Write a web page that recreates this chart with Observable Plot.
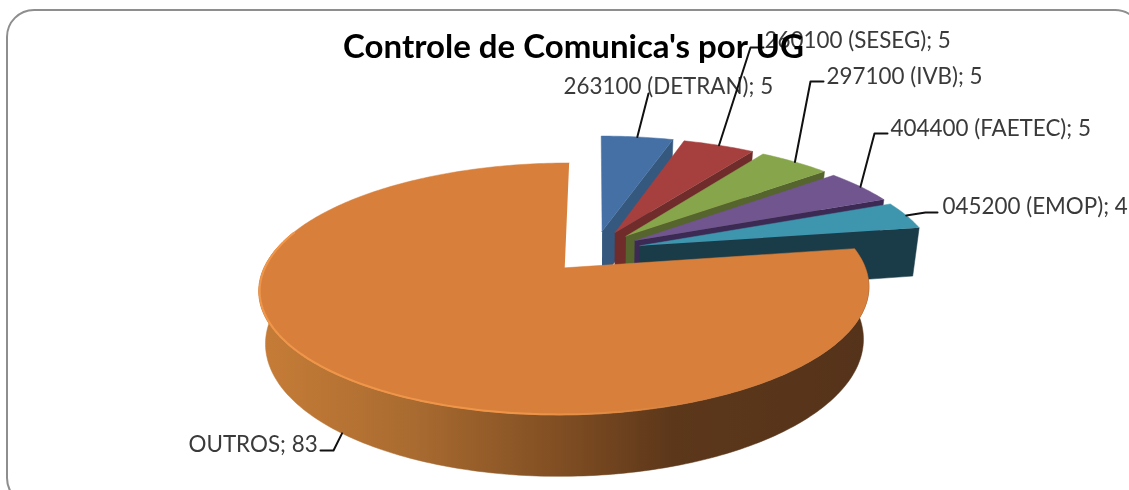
<!DOCTYPE html>
<html>
<head>
<meta charset="utf-8">
<script src="https://cdn.jsdelivr.net/npm/d3@7"></script>
<script src="https://cdn.jsdelivr.net/npm/@observablehq/plot@0.6"></script>
<style>html,body{margin:0;padding:0;background:#fff;overflow:hidden}svg{display:block;filter:blur(0.45px)}</style>
</head>
<body>
<div id="chart"></div>
<script>
const titleText = "Controle de Comunica's por UG";
const categories = ["263100 (DETRAN)", "260100 (SESEG)", "297100 (IVB)", "404400 (FAETEC)", "045200 (EMOP)", "OUTROS"];
const values = [5, 5, 5, 5, 4, 83];
const topColors = ["#4470a6", "#a5403e", "#87a54b", "#71558f", "#3e96ae", "#d77f3b"];
const sideColors = ["#35587f", "#6f2c2b", "#55652d", "#3c2a55", "#1a3c48", "#55331a"];
// label placement: text start x, text centre y, elbow x, elbow y, leader end x
const labelX = [563, 764, 826, 890, 942, 188];
const labelY = [86, 40, 76, 128, 206, 444];
const elbowX = [648, 750, 810, 874, 925, 333];
const elbowY = [93, 47, 81, 133, 212, 450];
const leaderEndX = [648, 763, 823, 887, 937, 320];

// view of the tilted, exploded pie
const cx = 595, cy = 251, Rx = 294, Ry = 117, persp = 0.164, ex = 0.158, ey = 0.179, depth = 50, shrink = 0.98;
const project = (X, Y, bottom) => {
  const w = 1 + persp * Y;
  let x = cx + Rx * X / w, y = cy - Ry * Y / w;
  if (bottom) { x = cx + (x - cx) * shrink; y += depth / w; }
  return {x, y};
};
const slices = d3.pie().sort(null)(values).map((d, i) => {
  const mid = (d.startAngle + d.endAngle) / 2;
  const ox = ex * Math.sin(mid), oy = ey * Math.cos(mid);
  const at = (a, r, bottom) => project(ox + r * Math.sin(a), oy + r * Math.cos(a), bottom);
  const n = Math.max(2, Math.ceil((d.endAngle - d.startAngle) * 60));
  const angles = d3.range(n + 1).map(k => d.startAngle + (d.endAngle - d.startAngle) * k / n);
  return {i, mid, at, angles, start: d.startAngle, end: d.endAngle};
});

const poly = (pts, fill) => Plot.line(pts, {x: "x", y: "y", fill, stroke: fill, strokeWidth: 0.5});
const marks = [];

marks.push(() => {
  const ns = "http://www.w3.org/2000/svg";
  const defs = document.createElementNS(ns, "defs");
  const grad = (id, x1, x2, stops) => {
    const g = document.createElementNS(ns, "linearGradient");
    g.setAttribute("id", id); g.setAttribute("gradientUnits", "userSpaceOnUse");
    g.setAttribute("x1", x1); g.setAttribute("x2", x2); g.setAttribute("y1", 0); g.setAttribute("y2", 0);
    stops.forEach(([o, c, a]) => {
      const s = document.createElementNS(ns, "stop");
      s.setAttribute("offset", o); s.setAttribute("stop-color", c);
      if (a != null) s.setAttribute("stop-opacity", a);
      g.appendChild(s);
    });
    defs.appendChild(g);
  };
  grad("wall", 262, 865, [[0, "#c67c37"], [0.25, "#a96b30"], [0.5, "#7f4d22"], [0.68, "#5c371a"], [1, "#55331a"]]);
  grad("edge", 258, 700, [[0, "#f0964a"], [0.6, "#ee9548"], [1, "#ee9548", 0]]);
  return defs;
});

marks.push(Plot.rect([0], {x1: () => 7, x2: () => 1142, y1: () => 10, y2: () => 505, rx: 27, fill: "none", stroke: "#8e8e8e", strokeWidth: 2}));

// small slices, back to front: radial wall then top face
slices.slice(0, 5).forEach(s => {
  marks.push(poly([s.at(s.end, 0, false), s.at(s.end, 1, false), s.at(s.end, 1, true), s.at(s.end, 0, true)], sideColors[s.i]));
  marks.push(poly([s.at(s.start, 0, false), ...s.angles.map(a => s.at(a, 1, false))], topColors[s.i]));
});

// big slice: front part of the rim wall, top face, edge highlight
const big = slices[5];
const front = big.angles.filter(a => a < Math.PI * 1.6);
marks.push(poly([...front.map(a => big.at(a, 1, false)), ...front.slice().reverse().map(a => big.at(a, 1, true))], "url(#wall)"));
marks.push(poly([big.at(big.start, 0, false), ...big.angles.map(a => big.at(a, 1, false))], topColors[5]));
const edge = big.angles.filter(a => a > Math.PI * 0.85 && a < Math.PI * 1.6).map(a => big.at(a, 0.997, false));
marks.push(Plot.line(edge, {x: "x", y: "y", stroke: "url(#edge)", strokeWidth: 2}));

// labels and leader lines
const labels = slices.map(s => ({
  text: `${categories[s.i]}; ${values[s.i]}`,
  x: labelX[s.i], y: labelY[s.i]
}));
marks.push(Plot.text(labels, {x: "x", y: "y", text: "text", textAnchor: "start", lineAnchor: "middle", fontFamily: "Lato", fontSize: 22.4, fill: "#3a3a3a"}));
slices.forEach(s => {
  const a = s.at(s.mid, 1, s.i === 5);
  const pts = [a, {x: elbowX[s.i], y: elbowY[s.i]}, {x: leaderEndX[s.i], y: elbowY[s.i]}];
  marks.push(Plot.line(pts, {x: "x", y: "y", stroke: "#111", strokeWidth: 2}));
});
marks.push(Plot.text([titleText], {x: () => 573, y: () => 47, text: d => d, textAnchor: "middle", lineAnchor: "middle", fontFamily: "Lato", fontWeight: 700, fontSize: 33, fill: "#000"}));

const chart = Plot.plot({
  width: 1129, height: 490, margin: 0,
  x: {type: "identity", axis: null},
  y: {type: "identity", axis: null},
  style: {background: "#fff", overflow: "hidden"},
  marks
});
document.getElementById("chart").appendChild(chart);
</script>
</body>
</html>
